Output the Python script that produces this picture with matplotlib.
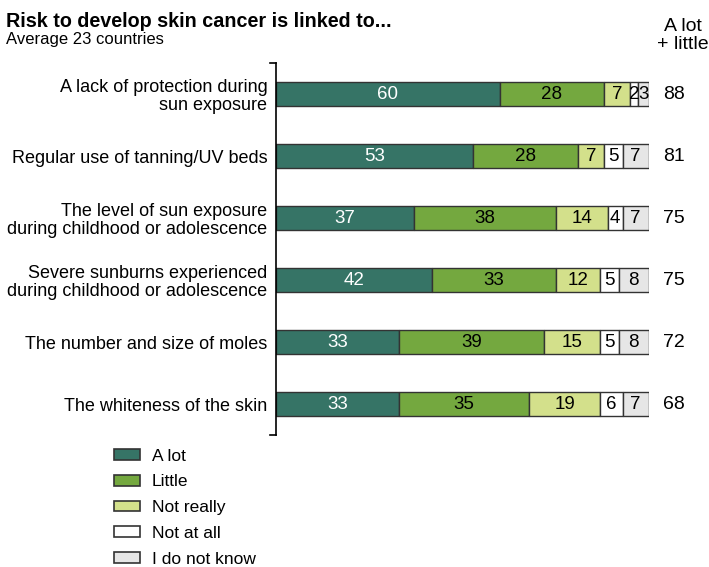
import matplotlib.pyplot as plt
import numpy as np
from matplotlib.patches import Patch

plt.rcParams['font.family'] = ['Liberation Sans', 'DejaVu Sans']

categories = ['A lack of protection during\nsun exposure',
              'Regular use of tanning/UV beds',
              'The level of sun exposure\nduring childhood or adolescence',
              'Severe sunburns experienced\nduring childhood or adolescence',
              'The number and size of moles',
              'The whiteness of the skin']
series = ['A lot', 'Little', 'Not really', 'Not at all', 'I do not know']
a_lot = [60, 53, 37, 42, 33, 33]
little = [28, 28, 38, 33, 39, 35]
not_really = [7, 7, 14, 12, 15, 19]
not_at_all = [2, 5, 4, 5, 5, 6]
dont_know = [3, 7, 7, 8, 8, 7]
totals = [88, 81, 75, 75, 72, 68]

colors = ['#367466', '#74a83f', '#d3e08b', '#ffffff', '#e6e6e6']
text_colors = ['white', 'black', 'black', 'black', 'black']

fig = plt.figure(figsize=(7.09, 5.67), dpi=100)
ax = fig.add_axes([0.389, 0.2328, 0.526, 0.656])

y = np.arange(len(categories))
left = np.zeros(len(categories))
data = [a_lot, little, not_really, not_at_all, dont_know]
for vals, col, tc in zip(data, colors, text_colors):
    vals = np.array(vals)
    ax.barh(y, vals, left=left, height=0.39, color=col, edgecolor='#333333', linewidth=1)
    for yi, l, v in zip(y, left, vals):
        ax.text(l + v / 2, yi, str(v), ha='center', va='center', fontsize=13.5, color=tc)
    left = left + vals

for yi, t in zip(y, totals):
    ax.text(103.8, yi, str(t), ha='left', va='center', fontsize=14)

ax.set_xlim(0, 100)
ax.set_ylim(5.5, -0.5)
ax.set_yticks(y)
ax.set_yticklabels(categories, fontsize=13, ha='right', linespacing=1.05)
ax.tick_params(axis='y', length=0, pad=6)
ax.set_xticks([])
for s in ['top', 'right', 'bottom']:
    ax.spines[s].set_visible(False)
ax.spines['left'].set_linewidth(1.2)
# little end ticks on the spine
ax.plot([-1.5, 0], [-0.5, -0.5], color='black', lw=1.2, clip_on=False)
ax.plot([-1.5, 0], [5.5, 5.5], color='black', lw=1.2, clip_on=False)

fig.text(0.008, 0.978, 'Risk to develop skin cancer is linked to...', fontsize=14.2,
         fontweight='bold', va='top')
fig.text(0.008, 0.944, 'Average 23 countries', fontsize=12, va='top')
fig.text(0.963, 0.968, 'A lot\n+ little', fontsize=14, ha='center', va='top',
         multialignment='center', linespacing=1.05)

handles = [Patch(facecolor=c, edgecolor='#333333', linewidth=1.2) for c in colors]
fig.legend(handles, series, loc='upper left', bbox_to_anchor=(0.148, 0.224),
           frameon=False, fontsize=12.5, handlelength=1.5, handleheight=0.57,
           labelspacing=0.62, handletextpad=0.69, borderpad=0)

fig.savefig('out.png', dpi=100)
